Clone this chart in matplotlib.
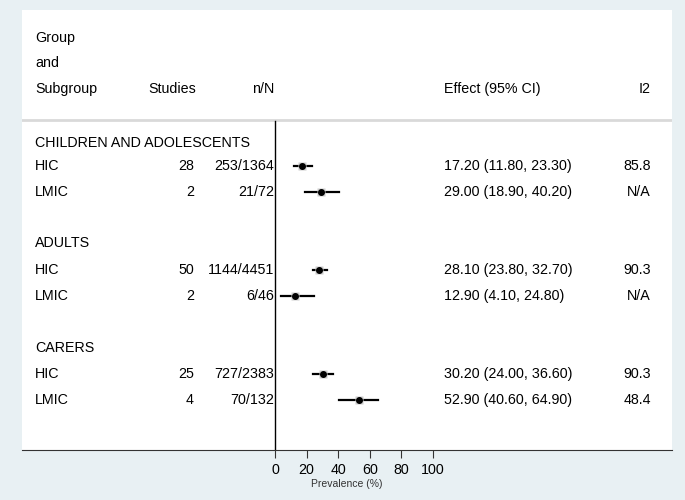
import numpy as np
import matplotlib.pyplot as plt

plt.rcParams['font.family'] = ['Liberation Sans', 'DejaVu Sans']

# данные
groups = ['CHILDREN AND ADOLESCENTS', 'ADULTS', 'CARERS']
subgroups = ['HIC', 'LMIC', 'HIC', 'LMIC', 'HIC', 'LMIC']
studies = [28, 2, 50, 2, 25, 4]
n_N = ['253/1364', '21/72', '1144/4451', '6/46', '727/2383', '70/132']
effect = [17.20, 29.00, 28.10, 12.90, 30.20, 52.90]
lower = [11.80, 18.90, 23.80, 4.10, 24.00, 40.60]
upper = [23.30, 40.20, 32.70, 24.80, 36.60, 64.90]
i2 = ['85.8', 'N/A', '90.3', 'N/A', '90.3', '48.4']
xticks = [0, 20, 40, 60, 80, 100]

# положения строк (в пикселях по вертикали)
group_rows = [143, 243, 348]
sub_rows = [166, 192, 270, 296, 374, 400]

W, H = 685, 500
bg = '#e8f0f3'
fig = plt.figure(figsize=(W / 100, H / 100), dpi=100, facecolor=bg)

L, R, T, B = 22, 672, 10, 450
ax = fig.add_axes([L / W, 1 - B / H, (R - L) / W, (B - T) / H])
ax.set_facecolor('white')

# масштаб: 0 -> 275 px, 100 -> 433 px
px0, px100 = 275, 433
k = (px100 - px0) / 100
ax.set_xlim((L - px0) / k, (R - px0) / k)
ax.set_ylim(B, T)

def X(px):
    return (px - px0) / k

fs = 10.3
# заголовок
ax.text(X(35), 38, 'Group', fontsize=fs, va='center')
ax.text(X(35), 63, 'and', fontsize=fs, va='center')
ax.text(X(35), 89, 'Subgroup', fontsize=fs, va='center')
ax.text(X(148), 89, 'Studies', fontsize=fs, va='center')
ax.text(X(274), 89, 'n/N', fontsize=fs, va='center', ha='right')
ax.text(X(444), 89, 'Effect (95% CI)', fontsize=fs, va='center')
ax.text(X(651), 89, 'I2', fontsize=fs, va='center', ha='right')

ax.axhline(120, color='#d9d9d9', lw=2)
ax.plot([0, 0], [121, B], color='black', lw=1)

for g, y in zip(groups, group_rows):
    ax.text(X(35), y, g, fontsize=fs, va='center')

for i, y in enumerate(sub_rows):
    ax.text(X(35), y, subgroups[i], fontsize=fs, va='center')
    ax.text(X(194), y, str(studies[i]), fontsize=fs, va='center', ha='right')
    ax.text(X(274), y, n_N[i], fontsize=fs, va='center', ha='right')
    ax.text(X(444), y, f'{effect[i]:.2f} ({lower[i]:.2f}, {upper[i]:.2f})',
            fontsize=fs, va='center')
    ax.text(X(651), y, i2[i], fontsize=fs, va='center', ha='right')
    ax.plot([lower[i], upper[i]], [y, y], color='black', lw=1.6)
    ax.plot(effect[i], y, marker='s', ms=5.5, color='#cccccc', mec='none')
    ax.plot(effect[i], y, marker='o', ms=4, color='black')

for s in ['top', 'left', 'right']:
    ax.spines[s].set_visible(False)
ax.spines['bottom'].set_color('#333333')
ax.set_yticks([])
ax.set_xticks(xticks)
ax.tick_params(axis='x', labelsize=10.3, length=6, pad=3, color='#333333')
ax.set_xlabel('Prevalence (%)', fontsize=7.5, color='#333333', labelpad=2)

fig.savefig('out.png', dpi=100, facecolor=bg)
